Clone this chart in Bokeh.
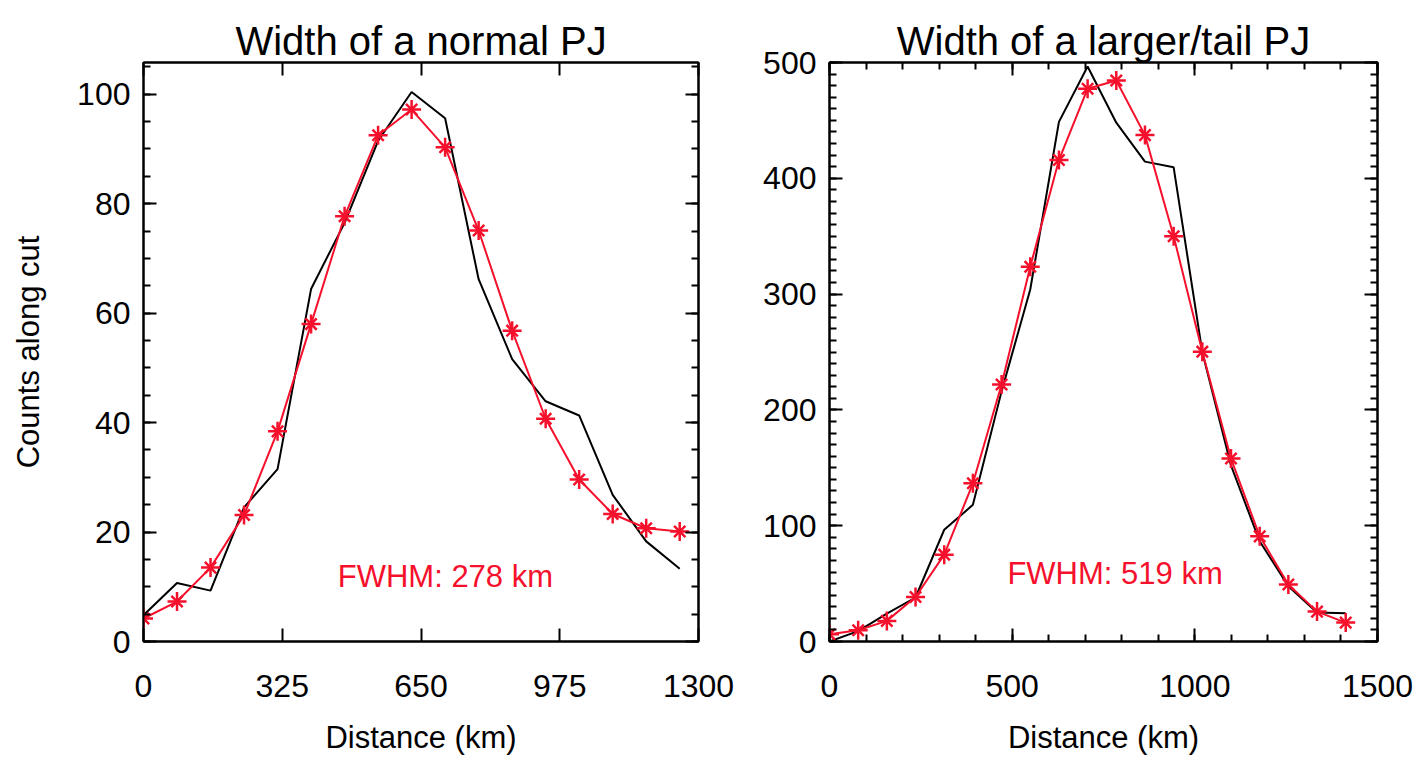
from bokeh.plotting import figure
from bokeh.layouts import row
from bokeh.models import (Range1d, LinearAxis, FixedTicker, SingleIntervalTicker, Label,
                          CustomJSTickFormatter)
from bokeh.embed import file_html
from bokeh.resources import INLINE

# ---------------- data ----------------
left_dist = [0, 78.5, 157, 235.5, 314, 392.5, 471, 549.5, 628, 706.5, 785, 863.5,
             942, 1020.5, 1099, 1177.5, 1256]
left_fit = [4.2, 7.3, 13.5, 23.1, 38.4, 58.0, 77.7, 92.5, 97.2, 90.3, 75.1, 56.8,
            40.7, 29.6, 23.3, 20.7, 20.1]
left_counts = [4.8, 10.7, 9.3, 24.5, 31.5, 64.4, 76.5, 91.5, 100.4, 95.6, 66.2, 51.6,
               43.9, 41.3, 26.8, 18.3, 13.3]

right_dist = [0, 78.5, 157, 235.5, 314, 392.5, 471, 549.5, 628, 706.5, 785, 863.5,
              942, 1020.5, 1099, 1177.5, 1256, 1334.5, 1413]
right_fit = [6.3, 9.7, 17.8, 38.4, 75.0, 136.6, 222.0, 323.6, 415.8, 477.4, 484.5, 437.3,
             350.0, 250.3, 158.0, 90.8, 49.2, 25.8, 16.3]
right_counts = [0, 9, 24, 38, 96.5, 118, 216, 304, 448.7, 496.6, 448, 414.4,
                409.5, 249.7, 152, 86.5, 47.8, 25, 24.3]

left_xticks = [0, 325, 650, 975, 1300]
right_xticks = [0, 500, 1000, 1500]

titles = ["Width of a normal PJ", "Width of a larger/tail PJ"]
left_fwhm = "FWHM: 278 km"
right_fwhm = "FWHM: 519 km"

FONT = "Liberation Sans"
RED = "#f5102c"


def style_axis(ax, labels=True):
    ax.axis_line_color = "black"
    ax.axis_line_width = 2
    ax.major_tick_line_color = "black"
    ax.minor_tick_line_color = "black"
    ax.major_tick_line_width = 2
    ax.minor_tick_line_width = 2
    ax.major_tick_in = 13
    ax.major_tick_out = 0
    ax.minor_tick_in = 7
    ax.minor_tick_out = 0
    ax.major_label_text_font = FONT
    ax.major_label_text_color = "black"
    ax.axis_label_text_font = FONT
    ax.axis_label_text_font_style = "normal"
    ax.axis_label_text_color = "black"
    if labels:
        ax.major_label_text_font_size = "32px"
        ax.axis_label_text_font_size = "31px"
    else:
        ax.formatter = CustomJSTickFormatter(code="return ''")
        ax.major_label_text_font_size = "1px"
        ax.major_label_standoff = 0


def make_panel(title, xr, yr, xticker_main, xticker_mirror, yticker_main, yticker_mirror,
               width, bl, br, xs, fit, counts, label_text, lx, ly, ylabel):
    p = figure(width=width, height=757, x_range=Range1d(*xr), y_range=Range1d(*yr),
               output_backend="svg", toolbar_location=None,
               x_axis_location=None, y_axis_location=None,
               min_border_left=bl, min_border_right=br, min_border_top=62,
               min_border_bottom=113)
    p.grid.visible = False
    p.outline_line_color = "black"
    p.outline_line_width = 2
    p.background_fill_color = "white"
    p.border_fill_color = "white"

    p.title.text = title
    p.title.align = "center"
    p.title.text_font = FONT
    p.title.text_font_style = "normal"
    p.title.text_font_size = "40px"
    p.title.text_color = "black"
    p.title.standoff = 0

    xb = LinearAxis(ticker=xticker_main, axis_label="Distance (km)")
    style_axis(xb)
    xb.major_label_standoff = 33
    xb.axis_label_standoff = 20
    p.add_layout(xb, "below")
    xt = LinearAxis(ticker=xticker_mirror)
    style_axis(xt, labels=False)
    xt.major_label_standoff = 14
    p.add_layout(xt, "above")

    yl = LinearAxis(ticker=yticker_main, axis_label=ylabel)
    style_axis(yl)
    yl.major_label_standoff = 13
    yl.axis_label_standoff = 28
    p.add_layout(yl, "left")
    yr_ax = LinearAxis(ticker=yticker_mirror)
    style_axis(yr_ax, labels=False)
    p.add_layout(yr_ax, "right")

    p.line(xs, counts, line_color="black", line_width=2)
    p.line(xs, fit, line_color=RED, line_width=2)
    p.scatter(xs, fit, marker="cross", size=19, line_color=RED, line_width=2.5)
    p.scatter(xs, fit, marker="x", size=16, line_color=RED, line_width=2.5)

    p.add_layout(Label(x=lx, y=ly, text=label_text, text_color=RED, text_font=FONT,
                       text_font_size="31px", text_baseline="middle", text_align="left"))
    return p


p1 = make_panel(titles[0], (0, 1300), (0, 105.8),
                FixedTicker(ticks=left_xticks, minor_ticks=[]),
                FixedTicker(ticks=left_xticks, minor_ticks=[]),
                SingleIntervalTicker(interval=20, num_minor_ticks=4),
                SingleIntervalTicker(interval=20, num_minor_ticks=4),
                760, 143, 62, left_dist, left_fit, left_counts, left_fwhm, 455, 11.9,
                "Counts along cut")

p2 = make_panel(titles[1], (0, 1500), (0, 500),
                SingleIntervalTicker(interval=500, num_minor_ticks=5),
                SingleIntervalTicker(interval=500, num_minor_ticks=5),
                SingleIntervalTicker(interval=100, num_minor_ticks=10),
                SingleIntervalTicker(interval=100, num_minor_ticks=10),
                654, 62, 37, right_dist, right_fit, right_counts, right_fwhm, 487, 58.6,
                "")

layout = row(p1, p2)
open("out.html", "w").write(file_html(layout, INLINE))
